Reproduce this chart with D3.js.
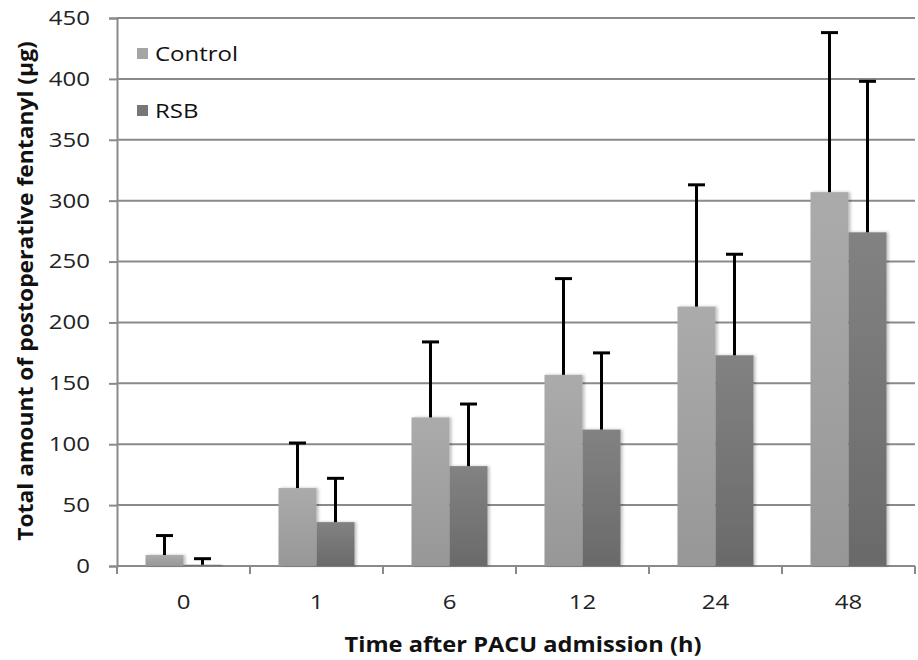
<!DOCTYPE html>
<html>
<head>
<meta charset="utf-8">
<script src="https://cdn.jsdelivr.net/npm/d3@7"></script>
<style>
  body { margin: 0; background: #fff; }
  svg { font-family: "Open Sans", sans-serif; }
</style>
</head>
<body>
<div id="chart"></div>
<script>
const categories = ['0', '1', '6', '12', '24', '48'];
const seriesNames = ['Control', 'RSB'];
const controlMean = [9, 64, 122, 157, 213, 307];
const controlUpper = [25, 101, 184, 236, 313, 438];
const rsbMean = [1, 36, 82, 112, 173, 274];
const rsbUpper = [6, 72, 133, 175, 256, 398];
const yTicks = [0, 50, 100, 150, 200, 250, 300, 350, 400, 450];

const width = 918, height = 660;
const margin = { top: 18, right: 3, bottom: 94, left: 117 };
const innerW = width - margin.left - margin.right;
const innerH = height - margin.top - margin.bottom;

const svg = d3.select('#chart').append('svg')
  .attr('width', width)
  .attr('height', height);

const defs = svg.append('defs');
const grads = [['gc', '#ababab', '#979797'], ['gr', '#828282', '#6a6a6a']];
grads.forEach(([id, a, b]) => {
  const g = defs.append('linearGradient').attr('id', id)
    .attr('x1', 0).attr('y1', 0).attr('x2', 0).attr('y2', 1);
  g.append('stop').attr('offset', '0%').attr('stop-color', a);
  g.append('stop').attr('offset', '100%').attr('stop-color', b);
});
const shadow = defs.append('filter').attr('id', 'sh')
  .attr('x', '-20%').attr('y', '-20%').attr('width', '150%').attr('height', '140%');
shadow.append('feDropShadow').attr('dx', 2).attr('dy', 0).attr('stdDeviation', 1.5)
  .attr('flood-color', '#000').attr('flood-opacity', 0.25);

const g = svg.append('g').attr('transform', `translate(${margin.left},${margin.top})`);

const x = d3.scaleBand().domain(categories).range([0, innerW]);
const xs = d3.scaleBand().domain(seriesNames)
  .range([0, x.bandwidth()]).paddingOuter(0.75);
const y = d3.scaleLinear().domain([0, 450]).range([innerH, 0]);

// gridlines
g.append('g').selectAll('line').data(yTicks).join('line')
  .attr('x1', 0).attr('x2', innerW)
  .attr('y1', d => y(d)).attr('y2', d => y(d))
  .attr('stroke', '#8a8a8a').attr('stroke-width', 2);

// y axis
const yAxis = g.append('g')
  .call(d3.axisLeft(y).tickValues(yTicks).tickSize(8).tickPadding(19));
yAxis.select('.domain').attr('stroke', '#8a8a8a').attr('stroke-width', 2);
yAxis.selectAll('.tick line').attr('stroke', '#8a8a8a').attr('stroke-width', 2);
yAxis.selectAll('text').attr('font-size', 20).attr('fill', '#222')
  .attr('font-family', '"Open Sans", sans-serif');

// x axis
const xAxisG = g.append('g').attr('transform', `translate(0,${innerH})`);
xAxisG.append('line').attr('x1', 0).attr('x2', innerW)
  .attr('stroke', '#8a8a8a').attr('stroke-width', 2);
xAxisG.selectAll('.bound').data(d3.range(categories.length + 1)).join('line')
  .attr('class', 'bound')
  .attr('x1', i => i * x.step()).attr('x2', i => i * x.step())
  .attr('y1', 0).attr('y2', 8)
  .attr('stroke', '#8a8a8a').attr('stroke-width', 2);
xAxisG.selectAll('text').data(categories).join('text')
  .attr('x', d => x(d) + x.bandwidth() / 2)
  .attr('y', 43)
  .attr('text-anchor', 'middle')
  .attr('font-size', 20).attr('fill', '#222')
  .text(d => d);

// bars
const series = [
  { name: 'Control', mean: controlMean, upper: controlUpper, fill: 'url(#gc)', key: '#a5a5a5' },
  { name: 'RSB', mean: rsbMean, upper: rsbUpper, fill: 'url(#gr)', key: '#777' }
];
series.forEach(s => {
  const grp = g.append('g');
  grp.selectAll('rect').data(categories).join('rect')
    .attr('x', d => x(d) + xs(s.name))
    .attr('width', xs.bandwidth())
    .attr('y', (d, i) => y(s.mean[i]))
    .attr('height', (d, i) => innerH - y(s.mean[i]))
    .attr('fill', s.fill)
    .attr('filter', 'url(#sh)');
});
series.forEach(s => {
  const grp = g.append('g');
  const cx = d => x(d) + xs(s.name) + xs.bandwidth() / 2;
  grp.selectAll('.stem').data(categories).join('line')
    .attr('x1', cx).attr('x2', cx)
    .attr('y1', (d, i) => y(s.mean[i])).attr('y2', (d, i) => y(s.upper[i]))
    .attr('stroke', '#000').attr('stroke-width', 3);
  grp.selectAll('.cap').data(categories).join('line')
    .attr('x1', d => cx(d) - 8.5).attr('x2', d => cx(d) + 8.5)
    .attr('y1', (d, i) => y(s.upper[i])).attr('y2', (d, i) => y(s.upper[i]))
    .attr('stroke', '#000').attr('stroke-width', 3);
});

// legend
const legend = svg.append('g').attr('transform', 'translate(137,44)');
series.forEach((s, i) => {
  const row = legend.append('g').attr('transform', `translate(0,${i * 57})`);
  row.append('rect').attr('width', 11).attr('height', 11).attr('y', 4).attr('fill', s.key);
  row.append('text').attr('x', 18).attr('y', 17)
    .attr('font-size', 20).attr('fill', '#111').text(s.name);
});

// the source uses a wide font; stretch text horizontally around its anchor
function stretch(el, k) {
  const ax = +(el.getAttribute('x') || 0);
  const old = el.getAttribute('transform') || '';
  el.setAttribute('transform', `${old} translate(${ax},0) scale(${k},1) translate(${-ax},0)`);
}
svg.selectAll('text').each(function () { stretch(this, 1.2); });

// axis titles
const yTitle = svg.append('text')
  .attr('transform', `translate(33,291) rotate(-90)`)
  .attr('text-anchor', 'middle')
  .attr('font-size', 21).attr('font-weight', 'bold').attr('fill', '#111')
  .text('Total amount of postoperative fentanyl (µg)');
stretch(yTitle.node(), 500 / yTitle.node().getComputedTextLength());
const xTitle = svg.append('text')
  .attr('x', 523).attr('y', 652)
  .attr('text-anchor', 'middle')
  .attr('font-size', 21).attr('font-weight', 'bold').attr('fill', '#111')
  .text('Time after PACU admission (h)');
stretch(xTitle.node(), 357 / xTitle.node().getComputedTextLength());
</script>
</body>
</html>
